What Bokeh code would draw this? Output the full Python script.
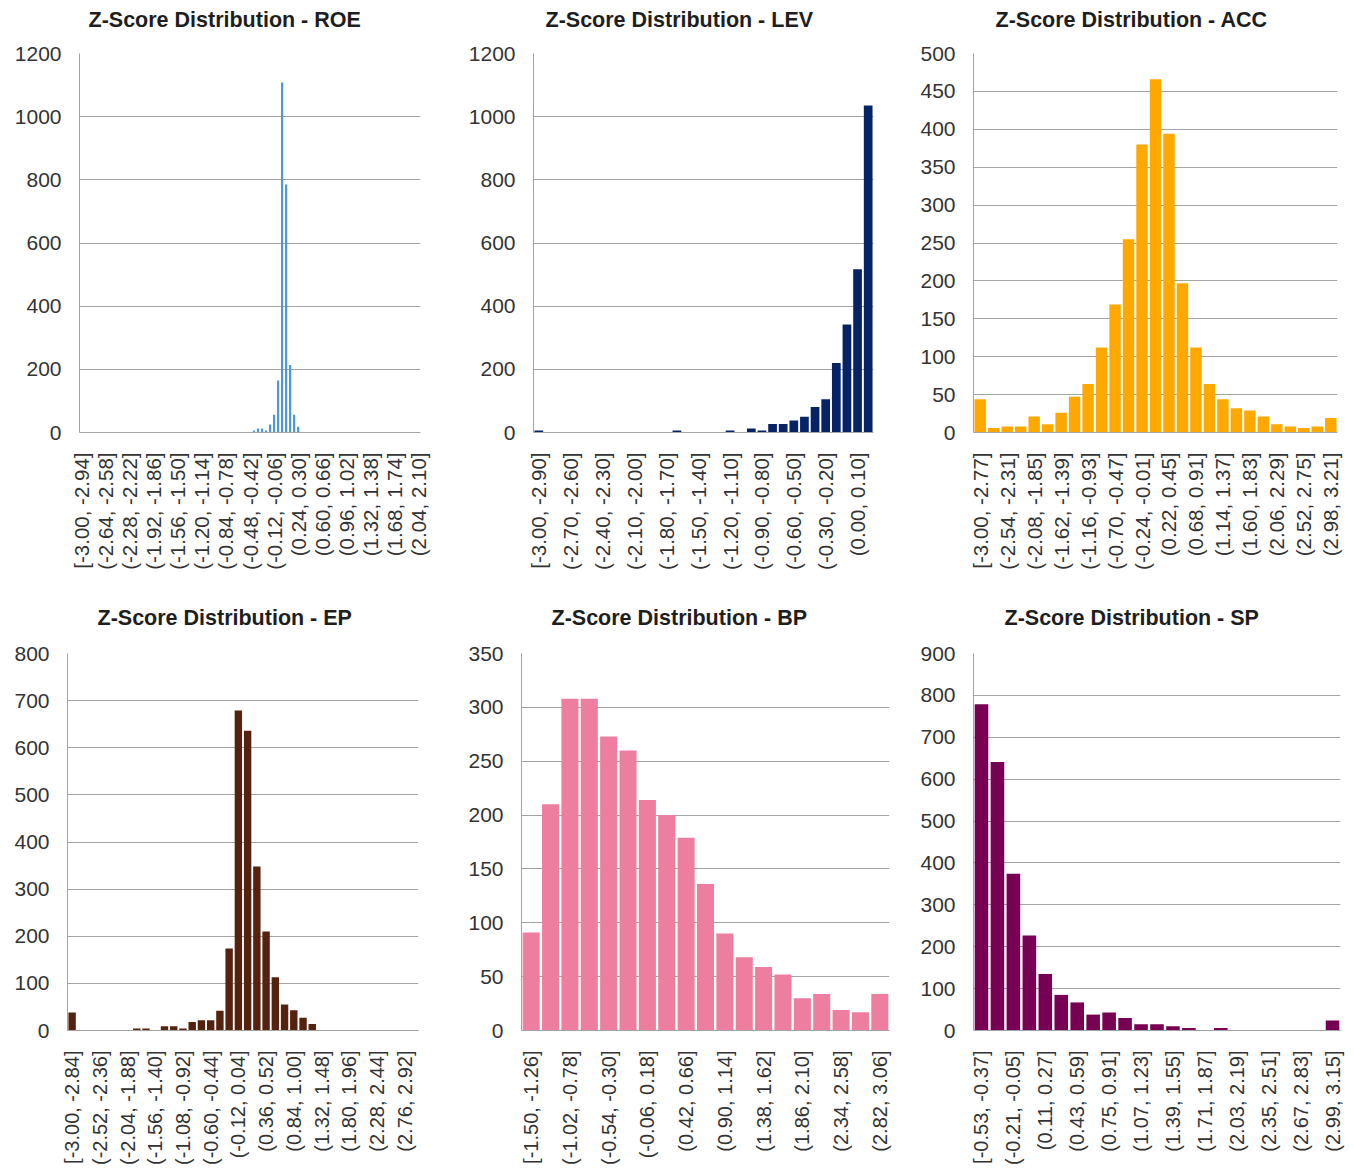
import math
from bokeh.plotting import figure
from bokeh.layouts import column, row
from bokeh.models import Range1d, FixedTicker, ColumnDataSource
from bokeh.embed import file_html
from bokeh.resources import INLINE

# ---------------- data ----------------
roe_counts = [0, 0, 0, 0, 0, 0, 0, 0, 0, 0, 0, 0, 0, 0, 0, 0, 0, 0, 0, 0,
              0, 0, 0, 0, 0, 0, 0, 0, 0, 0, 0, 0, 0, 0, 0, 0, 0, 0, 0, 0,
              0, 0, 0, 6, 13, 13, 6, 25, 56, 165, 1108, 785, 214, 56, 18, 0, 0, 0, 0, 0,
              0, 0, 0, 0, 0, 0, 0, 0, 0, 0, 0, 0, 0, 0, 0, 0, 0, 0, 0, 0,
              0, 0, 0, 0, 0]
roe_labels = ["[-3.00, -2.94]", "(-2.64, -2.58]", "(-2.28, -2.22]", "(-1.92, -1.86]",
              "(-1.56, -1.50]", "(-1.20, -1.14]", "(-0.84, -0.78]", "(-0.48, -0.42]",
              "(-0.12, -0.06]", "(0.24, 0.30]", "(0.60, 0.66]", "(0.96, 1.02]",
              "(1.32, 1.38]", "(1.68, 1.74]", "(2.04, 2.10]"]

lev_counts = [6, 0, 0, 0, 0, 0, 0, 0, 0, 0, 0, 0, 0, 6, 0, 0, 0, 0, 6, 0,
              13, 6, 27, 27, 38, 50, 81, 105, 220, 342, 517, 1035]
lev_labels = ["[-3.00, -2.90]", "(-2.70, -2.60]", "(-2.40, -2.30]", "(-2.10, -2.00]",
              "(-1.80, -1.70]", "(-1.50, -1.40]", "(-1.20, -1.10]", "(-0.90, -0.80]",
              "(-0.60, -0.50]", "(-0.30, -0.20]", "(0.00, 0.10]"]

acc_counts = [44, 6, 8, 8, 21, 11, 26, 47, 64, 112, 169, 255, 380, 466, 394, 197,
              112, 64, 44, 32, 29, 21, 11, 8, 6, 8, 19]
acc_labels = ["[-3.00, -2.77]", "(-2.54, -2.31]", "(-2.08, -1.85]", "(-1.62, -1.39]",
              "(-1.16, -0.93]", "(-0.70, -0.47]", "(-0.24, -0.01]", "(0.22, 0.45]",
              "(0.68, 0.91]", "(1.14, 1.37]", "(1.60, 1.83]", "(2.06, 2.29]",
              "(2.52, 2.75]", "(2.98, 3.21]"]

ep_counts = [38, 0, 0, 0, 0, 0, 0, 4, 4, 0, 9, 9, 4, 18, 22, 22, 42, 174, 679, 636,
             348, 210, 113, 55, 43, 27, 14, 0, 0, 0, 0, 0, 0, 0, 0, 0, 0, 0]
ep_labels = ["[-3.00, -2.84]", "(-2.52, -2.36]", "(-2.04, -1.88]", "(-1.56, -1.40]",
             "(-1.08, -0.92]", "(-0.60, -0.44]", "(-0.12, 0.04]", "(0.36, 0.52]",
             "(0.84, 1.00]", "(1.32, 1.48]", "(1.80, 1.96]", "(2.28, 2.44]",
             "(2.76, 2.92]"]

bp_counts = [91, 210, 308, 308, 273, 260, 214, 200, 179, 136, 90, 68, 59, 52, 30,
             34, 19, 17, 34]
bp_labels = ["[-1.50, -1.26]", "(-1.02, -0.78]", "(-0.54, -0.30]", "(-0.06, 0.18]",
             "(0.42, 0.66]", "(0.90, 1.14]", "(1.38, 1.62]", "(1.86, 2.10]",
             "(2.34, 2.58]", "(2.82, 3.06]"]

sp_counts = [779, 641, 374, 227, 135, 85, 67, 38, 43, 30, 15, 15, 10, 6, 0, 6,
             0, 0, 0, 0, 0, 0, 24]
sp_labels = ["[-0.53, -0.37]", "(-0.21, -0.05]", "(0.11, 0.27]", "(0.43, 0.59]",
             "(0.75, 0.91]", "(1.07, 1.23]", "(1.39, 1.55]", "(1.71, 1.87]",
             "(2.03, 2.19]", "(2.35, 2.51]", "(2.67, 2.83]", "(2.99, 3.15]"]

FONT = "Liberation Sans"
GRID = "#A3A3A3"


def panel(name, counts, labels, step, ymax, ystep, color, bar_w,
          fw, fh, bl, br, bt, bb, title_off, title_pad, xfs):
    n = len(counts)
    p = figure(width=bl + fw + br, height=bt + fh + bb,
               x_range=Range1d(-0.5, n - 0.5), y_range=Range1d(0, ymax),
               output_backend="svg", toolbar_location=None,
               min_border_left=bl, min_border_right=br,
               min_border_top=bt, min_border_bottom=bb,
               title="Z-Score Distribution - " + name)
    src = ColumnDataSource(dict(x=list(range(n)), top=counts))
    p.vbar(x="x", top="top", bottom=0, width=bar_w, source=src,
           fill_color=color, line_color=None)

    p.title.align = "left"
    p.title.offset = title_off
    p.title.standoff = 0
    p.title.padding = dict(left=0, right=0, top=0, bottom=title_pad)
    p.title.text_font = FONT
    p.title.text_font_size = "21.5px"
    p.title.text_font_style = "bold"
    p.title.text_color = "#1E1E1E"

    p.outline_line_color = None
    p.background_fill_color = "white"
    p.border_fill_color = "white"
    p.xgrid.grid_line_color = None
    p.ygrid.grid_line_color = GRID
    p.ygrid.grid_line_width = 1

    yticks = list(range(0, ymax + 1, ystep))
    p.yaxis.ticker = FixedTicker(ticks=yticks)
    p.yaxis.major_label_text_font = FONT
    p.yaxis.major_label_text_font_size = "21px"
    p.yaxis.major_label_text_color = "#333333"
    p.yaxis.major_label_standoff = 18
    p.yaxis.major_tick_out = 0
    p.yaxis.major_tick_in = 0
    p.yaxis.axis_line_color = GRID
    p.yaxis.major_tick_line_color = None
    p.yaxis.minor_tick_line_color = None

    xticks = list(range(0, n, step))[:len(labels)]
    p.xaxis.ticker = FixedTicker(ticks=xticks)
    p.xaxis.major_label_overrides = {t: lab for t, lab in zip(xticks, labels)}
    p.xaxis.major_label_orientation = math.pi / 2
    p.xaxis.major_label_text_font = FONT
    p.xaxis.major_label_text_font_size = xfs
    p.xaxis.major_label_text_color = "#333333"
    p.xaxis.major_label_standoff = 20
    p.xaxis.major_tick_out = 0
    p.xaxis.major_tick_in = 0
    p.xaxis.axis_line_color = GRID
    p.xaxis.major_tick_line_color = None
    p.xaxis.minor_tick_line_color = None
    return p


# frames (page px): row 1 y 53-432, row 2 y 653-1030
p1 = panel("ROE", roe_counts, roe_labels, 6, 1200, 200, "#4D96E0", 0.55,
           341, 379, 79, 32, 53, 168, 9, 22, "20.5px")
p2 = panel("LEV", lev_counts, lev_labels, 3, 1200, 200, "#062465", 0.82,
           340, 379, 81, 27, 53, 168, 12, 22, "20.5px")
p3 = panel("ACC", acc_counts, acc_labels, 2, 500, 50, "#FFA900", 0.85,
           364, 379, 73, 9, 53, 168, 22, 22, "20.5px")
p4 = panel("EP", ep_counts, ep_labels, 3, 800, 100, "#54220F", 0.8,
           351, 377, 67, 42, 53, 139, 30, 24, "20px")
p5 = panel("BP", bp_counts, bp_labels, 2, 350, 50, "#EE7EA0", 0.88,
           368, 377, 61, 16, 53, 139, 30, 24, "20px")
p6 = panel("SP", sp_counts, sp_labels, 2, 900, 100, "#770055", 0.85,
           367, 377, 68, 6, 53, 139, 31, 24, "20px")

layout = column(row(p1, p2, p3), row(p4, p5, p6))
open("out.html", "w").write(file_html(layout, INLINE))
